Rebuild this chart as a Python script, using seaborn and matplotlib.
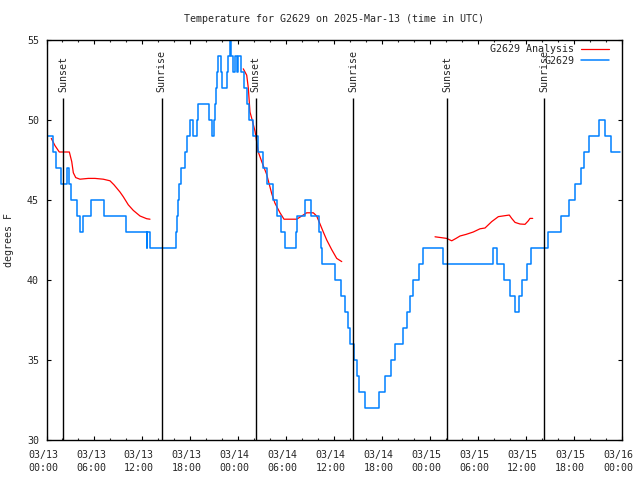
import matplotlib
matplotlib.use('Agg')
import matplotlib.pyplot as plt
import matplotlib.transforms as mtransforms
import numpy as np
import pandas as pd
import seaborn as sns

# hours since 2025-03-13 00:00 UTC
station_hours = [
    0.19, 0.78, 1.19, 1.85, 2.61, 2.86, 3.07, 3.86, 4.25, 4.61, 5.54, 7.23, 9.91,
    12.54, 12.62, 12.96, 16.21, 16.34, 16.47, 16.63, 16.84, 17.35, 17.63, 17.94,
    18.38, 18.81, 19.01, 20.39, 20.69, 21.01, 21.13, 21.22, 21.35, 21.51, 21.81,
    21.98, 22.57, 22.77, 22.94, 23.11, 23.39, 23.61, 23.81, 24.01, 24.31, 24.77,
    25.07, 25.40, 25.90, 26.53, 27.07, 27.65, 28.40, 28.90, 29.33, 29.86, 31.24,
    31.41, 32.36, 33.08, 34.16, 34.34, 34.46, 36.12, 36.84, 37.38, 37.80, 38.00,
    38.50, 38.92, 39.17, 39.88, 41.63, 42.39, 43.10, 43.64, 44.60, 45.10, 45.52,
    45.86, 46.68, 47.18, 49.68, 55.95, 56.37, 57.29, 58.04, 58.66, 59.20, 59.50,
    60.13, 60.61, 62.84, 64.39, 65.43, 66.18, 66.93, 67.30, 67.93, 69.23, 69.94,
    70.69, 71.80,
]
station_temps = [
    49, 48, 47, 46, 47, 46, 45, 44, 43, 44, 45, 44, 43,
    42, 43, 42, 43, 44, 45, 46, 47, 48, 49, 50,
    49, 50, 51, 50, 49, 50, 51, 52, 53, 54, 53,
    52, 53, 54, 55, 54, 53, 54, 53, 54, 53, 52,
    51, 50, 49, 48, 47, 46, 45, 44, 43, 42, 43,
    44, 45, 44, 43, 42, 41, 40, 39, 38, 37, 36,
    35, 34, 33, 32, 33, 34, 35, 36, 37, 38, 39,
    40, 41, 42, 41, 42, 41, 40, 39, 38, 39, 40,
    41, 42, 43, 44, 45, 46, 47, 48, 49, 50, 49,
    48, 48,
]

analysis1_hours = [0.60, 1.06, 1.60, 2.86, 3.16, 3.36, 3.66, 4.19, 5.23, 6.07, 7.11,
                   7.95, 8.45, 9.20, 9.62, 10.24, 10.87, 11.71, 12.55, 12.96]
analysis1_temps = [48.85, 48.4, 48.0, 48.0, 47.4, 46.7, 46.4, 46.3, 46.35, 46.35, 46.3,
                   46.2, 45.95, 45.5, 45.2, 44.7, 44.35, 44.0, 43.83, 43.8]

analysis2_hours = [24.64, 25.07, 25.27, 25.48, 25.70, 26.11, 26.52, 26.95, 27.57, 28.20,
                   28.61, 29.24, 29.74, 31.33, 31.96, 32.58, 33.41, 33.83, 34.25, 34.66,
                   35.09, 35.71, 36.34, 36.97]
analysis2_temps = [53.2, 52.8, 52.0, 50.5, 50.1, 49.3, 48.0, 47.4, 46.6, 45.4,
                   44.8, 44.2, 43.8, 43.8, 44.0, 44.2, 44.2, 44.0, 43.5, 43.0,
                   42.5, 41.9, 41.35, 41.15]

analysis3_hours = [48.65, 49.40, 50.11, 50.74, 51.28, 51.78, 52.53, 53.44, 54.28, 54.91,
                   55.75, 56.58, 57.95, 58.25, 58.67, 59.29, 59.92, 60.33, 60.54, 60.88]
analysis3_temps = [42.7, 42.65, 42.6, 42.45, 42.6, 42.75, 42.85, 43.0, 43.2, 43.25,
                   43.65, 43.96, 44.06, 43.85, 43.6, 43.5, 43.48, 43.7, 43.85, 43.85]

event_hours = [2.1, 14.4, 26.2, 38.4, 50.2, 62.3]
event_labels = ['Sunset', 'Sunrise', 'Sunset', 'Sunrise', 'Sunset', 'Sunrise']

tick_hours = list(range(0, 73, 6))
tick_labels = ['03/13\n00:00', '03/13\n06:00', '03/13\n12:00', '03/13\n18:00',
               '03/14\n00:00', '03/14\n06:00', '03/14\n12:00', '03/14\n18:00',
               '03/15\n00:00', '03/15\n06:00', '03/15\n12:00', '03/15\n18:00',
               '03/16\n00:00']

sns.set_style('ticks')
plt.rcParams['font.family'] = ['DejaVu Sans Mono']
fs = 7.2

fig = plt.figure(figsize=(6.4, 4.8), dpi=100)
ax = fig.add_axes([46.5 / 640, 40 / 480, 575 / 640, 400 / 480])

segments = [(analysis1_hours, analysis1_temps),
            (analysis2_hours, analysis2_temps),
            (analysis3_hours, analysis3_temps)]
for i, (h, t) in enumerate(segments):
    seg = pd.DataFrame({'hours': h, 'temp': t})
    sns.lineplot(data=seg, x='hours', y='temp', ax=ax, color='#ff0000', lw=0.9,
                 label='G2629 Analysis' if i == 0 else None, legend=False)

station = pd.DataFrame({'hours': station_hours, 'temp': station_temps})
sns.lineplot(data=station, x='hours', y='temp', ax=ax, color='#0080ff', lw=1.1,
             drawstyle='steps-post', label='G2629', legend=False)

# sunrise / sunset markers
ax.vlines(event_hours, 30, 51.36, color='black', lw=1.0)
label_trans = mtransforms.blended_transform_factory(ax.transData, ax.transAxes)
for h, lab in zip(event_hours, event_labels):
    ax.text(h, 0.87, lab, rotation=90, ha='center', va='bottom',
            transform=label_trans, fontsize=fs)

ax.set_xlim(0, 72)
ax.set_ylim(30, 55)
ax.set_xticks(tick_hours)
ax.set_xticklabels(tick_labels, fontsize=fs)
ax.set_xticks(range(0, 73, 2), minor=True)
ax.set_yticks([30, 35, 40, 45, 50, 55])
ax.tick_params(axis='both', which='major', direction='in', length=2.9, width=0.8,
               top=True, right=True, labelsize=fs, color='black')
ax.tick_params(axis='x', which='minor', direction='in', length=1.5, width=0.8,
               top=True)
ax.tick_params(axis='x', which='major', pad=7)
ax.tick_params(axis='y', which='major', pad=5.5)
shift = mtransforms.ScaledTranslation(-3.5 / 100, 0, fig.dpi_scale_trans)
for lbl in ax.get_xticklabels():
    lbl.set_linespacing(1.45)
    lbl.set_transform(lbl.get_transform() + shift)

for sp in ax.spines.values():
    sp.set_linewidth(1.0)
    sp.set_color('black')

ax.set_xlabel('')
ax.set_ylabel('degrees F', fontsize=fs, labelpad=9)
ax.set_title('Temperature for G2629 on 2025-Mar-13 (time in UTC)', fontsize=fs, pad=13)

ax.legend(loc='upper right', bbox_to_anchor=(609.3 / 640, (480 - 44.5) / 480),
          bbox_transform=fig.transFigure, frameon=False, markerfirst=False,
          fontsize=fs, handlelength=2.83, handletextpad=0.67, labelspacing=0.1,
          borderpad=0, borderaxespad=0)

fig.savefig('out.png', dpi=100)
